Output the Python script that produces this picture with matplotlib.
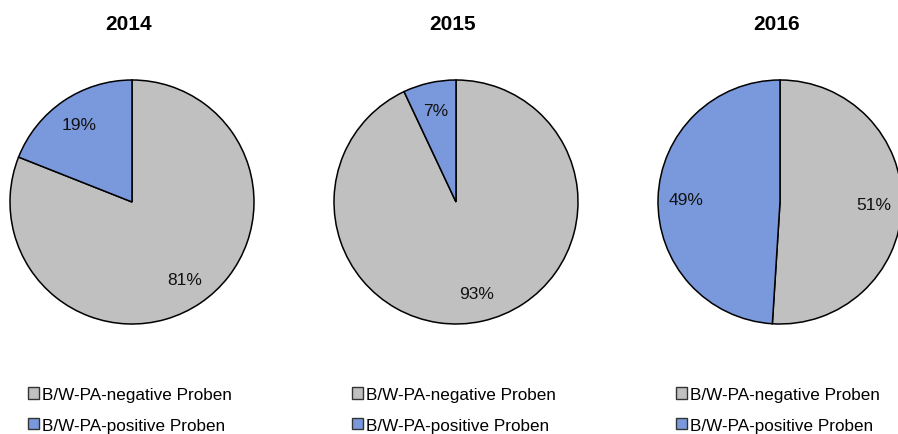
import matplotlib.pyplot as plt
from matplotlib.patches import Patch
from matplotlib.legend import Legend

plt.rcParams["font.family"] = ["Liberation Sans", "DejaVu Sans"]

# -----------------------------
# Data
# -----------------------------
years = ["2014", "2015", "2016"]
negative = [81, 93, 51]
positive = [19, 7, 49]
labels = ["B/W-PA-negative Proben", "B/W-PA-positive Proben"]
colors = ["#C0C0C0", "#7A99DC"]

W, H = 898, 435
fig = plt.figure(figsize=(W / 100, H / 100), dpi=100)
ax = fig.add_axes([0, 0, 1, 1])

centers_x = [132, 456, 780]
center_y = H - 203
radius = 122

for i, year in enumerate(years):
    cx = centers_x[i]
    ax.pie(
        [negative[i], positive[i]],
        colors=colors,
        startangle=90,
        counterclock=False,
        center=(cx, center_y),
        radius=radius,
        autopct="%1.0f%%",
        pctdistance=0.77,
        wedgeprops=dict(edgecolor="black", linewidth=1.1),
        textprops=dict(fontsize=12.5, color="#111111"),
        frame=True,
    )
    ax.text(cx - 3, H - 25, year, ha="center", va="center", fontsize=15, fontweight="bold")

    # one legend per pie
    handles = [Patch(facecolor=c, edgecolor="#333333", linewidth=1.0) for c in colors]
    leg = Legend(
        ax, handles, labels,
        loc="upper left",
        bbox_to_anchor=((cx - 104) / W, (H - 388) / H),
        bbox_transform=fig.transFigure,
        frameon=False,
        fontsize=12.3,
        handlelength=0.64,
        handleheight=0.64,
        handletextpad=0.2,
        labelspacing=0.92,
        borderpad=0,
        borderaxespad=0,
    )
    ax.add_artist(leg)

ax.set_xlim(0, W)
ax.set_ylim(0, H)
ax.set_aspect("auto")
ax.axis("off")

fig.savefig("out.png", dpi=100)
